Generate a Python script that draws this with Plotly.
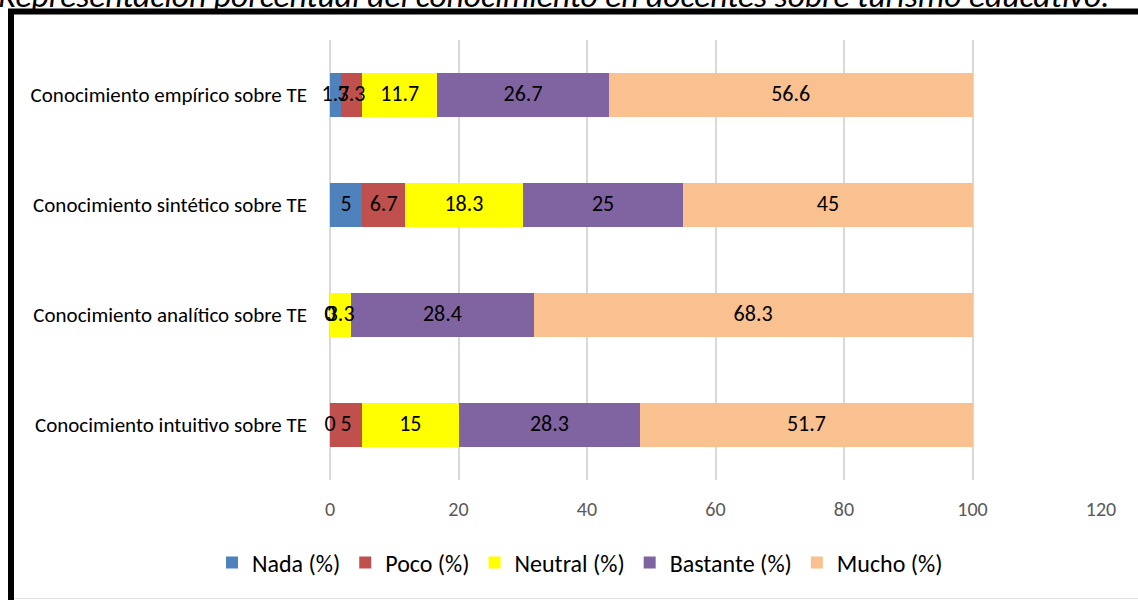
import plotly.graph_objects as go

# ---------------- data ----------------
categories = [
    "Conocimiento empírico sobre TE",
    "Conocimiento sintético sobre TE",
    "Conocimiento analítico sobre TE",
    "Conocimiento intuitivo sobre TE",
]
series_names = ["Nada (%)", "Poco (%)", "Neutral (%)", "Bastante (%)", "Mucho (%)"]
nada = [1.7, 5, 0, 0]
poco = [3.3, 6.7, 0, 5]
neutral = [11.7, 18.3, 3.3, 15]
bastante = [26.7, 25, 28.4, 28.3]
mucho = [56.6, 45, 68.3, 51.7]
x_ticks = [0, 20, 40, 60, 80, 100, 120]
title_text = "Representación porcentual del conocimiento en docentes sobre turismo educativo."

colors = ["#4F81BD", "#C0504D", "#FFFF00", "#8064A2", "#F9C090"]
FONT = "Carlito, Lato, sans-serif"

series = [nada, poco, neutral, bastante, mucho]

fig = go.Figure()
for name, vals, col in zip(series_names, series, colors):
    fig.add_trace(go.Bar(
        y=categories, x=vals, name=name, orientation="h",
        marker=dict(color=col, line=dict(width=0)),
        hoverinfo="x+name",
    ))

# data labels centred in each segment (computed from the data)
lab_x, lab_y, lab_t = [], [], []
for i, cat in enumerate(categories):
    cum = 0
    for vals in series:
        v = vals[i]
        lab_x.append(cum + v / 2)
        lab_y.append(cat)
        lab_t.append(f"{v:g}")
        cum += v
fig.add_trace(go.Scatter(
    x=lab_x, y=lab_y, text=lab_t, mode="text",
    textfont=dict(family=FONT, size=22, color="#000000"),
    textposition="middle center", showlegend=False, hoverinfo="skip",
    cliponaxis=False,
))

# ---------- layout geometry (pixels -> paper) ----------
W, H = 1138, 600
ML, MR, MT, MB = 330, 37, 40, 120
PW, PH = W - ML - MR, H - MT - MB


def px2x(px):
    return (px - ML) / PW


def py2y(py):
    return (H - MB - py) / PH


fig.update_layout(
    width=W, height=H,
    margin=dict(l=ML, r=MR, t=MT, b=MB, pad=0),
    barmode="stack", bargap=0.6,
    plot_bgcolor="white", paper_bgcolor="white",
    font=dict(family=FONT, size=18, color="#000000"),
    xaxis=dict(
        range=[0, 120], tickvals=x_ticks, ticktext=[str(t) for t in x_ticks],
        showgrid=True, gridcolor="#D9D9D9", gridwidth=1.5,
        zeroline=True, zerolinecolor="#D9D9D9", zerolinewidth=1.5,
        showline=False, ticks="",
        tickfont=dict(family=FONT, size=20, color="#595959"),
        ticklabelstandoff=15, fixedrange=True,
    ),
    yaxis=dict(
        categoryorder="array", categoryarray=categories, autorange="reversed",
        showgrid=False, zeroline=False, showline=False, ticks="",
        tickfont=dict(family=FONT, size=21, color="#000000"),
        ticklabelstandoff=22, fixedrange=True,
    ),
    legend=dict(
        orientation="h", x=px2x(580), xanchor="center",
        y=py2y(563), yanchor="middle",
        font=dict(family=FONT, size=24, color="#000000"),
        bgcolor="rgba(0,0,0,0)", traceorder="normal",
        itemwidth=30,
    ),
    showlegend=True,
)

# chart frame (black thick border, partly outside the view) and grey outline
fig.add_shape(type="rect", xref="paper", yref="paper",
              x0=px2x(11), y0=py2y(640), x1=px2x(1170), y1=py2y(11.5),
              line=dict(color="#000000", width=6), fillcolor="rgba(0,0,0,0)",
              layer="above")
fig.add_shape(type="line", xref="paper", yref="paper",
              x0=px2x(14), y0=py2y(598.5), x1=px2x(1140), y1=py2y(598.5),
              line=dict(color="#E0E0E0", width=1))

# caption title partially cut off at the top
fig.add_annotation(
    text=title_text, xref="paper", yref="paper",
    x=px2x(-4), xanchor="left", y=py2y(18), yanchor="bottom",
    showarrow=False,
    font=dict(family=FONT, size=33.5, color="#000000", style="italic"),
)

fig.write_html(
    "out.html",
    config={"displayModeBar": False},
    post_script="document.body.style.margin='0px';document.body.style.overflow='hidden';",
)
